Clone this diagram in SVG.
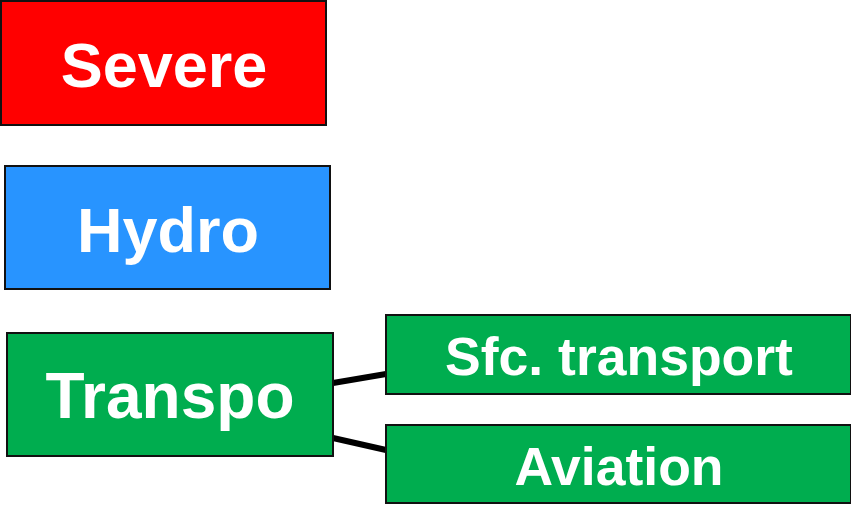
<svg xmlns="http://www.w3.org/2000/svg" width="851" height="505" viewBox="0 0 851 505">
<style>
.box{stroke:#111;stroke-width:2}
.lbl{font-family:"Liberation Sans",Arial,sans-serif;font-weight:bold;fill:#fff;text-anchor:middle}
.conn{stroke:#000;stroke-width:6;fill:none}
</style>
<rect width="851" height="505" fill="#fff"/>
<g id="connectors">
<line class="conn" x1="333" y1="383" x2="386" y2="374"/>
<line class="conn" x1="333" y1="438" x2="386" y2="450"/>
</g>
<g id="severe">
<rect class="box" x="1" y="1" width="325" height="124" fill="#ff0000"/>
<text class="lbl" x="164" y="87" font-size="63">Severe</text>
</g>
<g id="hydro">
<rect class="box" x="5" y="166" width="325" height="123" fill="#2894ff"/>
<text class="lbl" x="168" y="252" font-size="63">Hydro</text>
</g>
<g id="transpo">
<rect class="box" x="7" y="333" width="326" height="123" fill="#00ad4f"/>
<text class="lbl" x="170" y="418" font-size="64">Transpo</text>
</g>
<g id="sfc">
<rect class="box" x="386" y="315" width="465" height="79" fill="#00ad4f"/>
<text class="lbl" x="619" y="375" font-size="53.5">Sfc. transport</text>
</g>
<g id="aviation">
<rect class="box" x="386" y="425" width="465" height="78" fill="#00ad4f"/>
<text class="lbl" x="619" y="485" font-size="53.5">Aviation</text>
</g>
</svg>
